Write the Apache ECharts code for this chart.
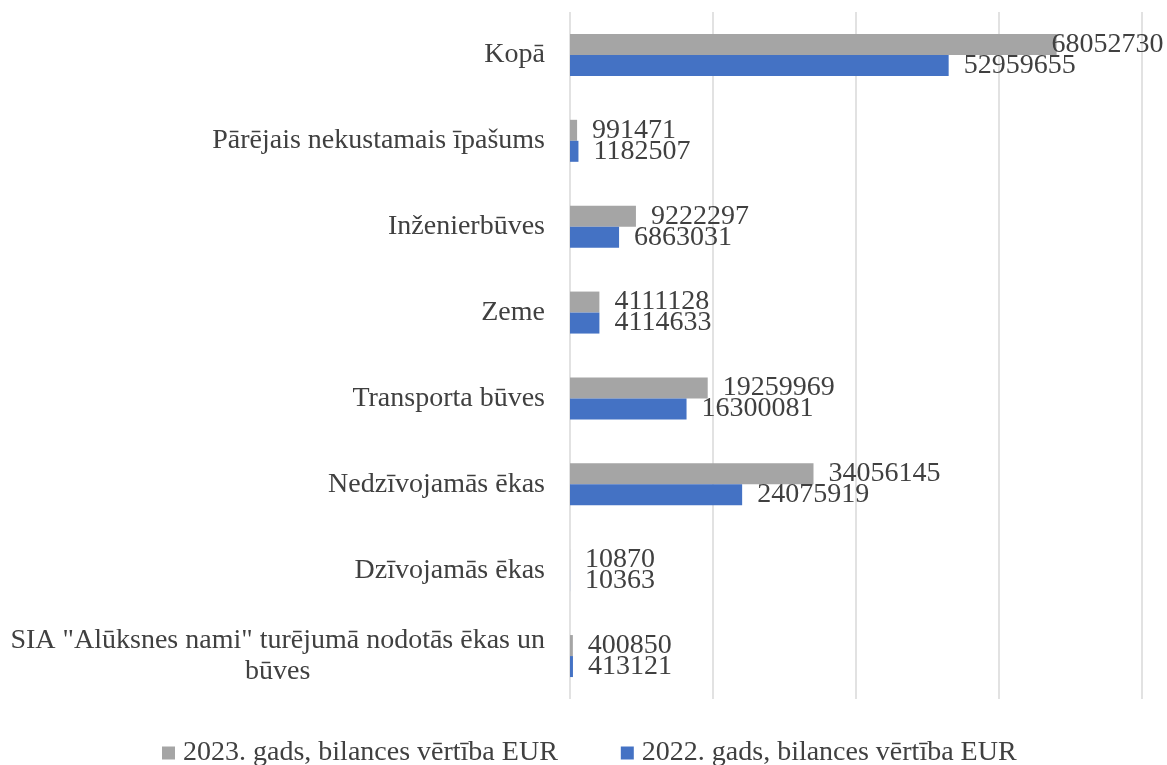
<!DOCTYPE html>
<html>
  <head>
    <meta charset="utf-8" />
    <title>ECharts</title>
    <script src="https://cdn.jsdelivr.net/npm/echarts@6/dist/echarts.min.js"></script>
    <style>
      html, body { margin: 0; padding: 0; background: #fff; }
    </style>
  </head>
  <body>
    <div id="main" style="width: 1167px;height:765px;"></div>
    <script type="text/javascript">
      // kategorijas no augšas uz leju
      var categories = [
        'Kopā',
        'Pārējais nekustamais īpašums',
        'Inženierbūves',
        'Zeme',
        'Transporta būves',
        'Nedzīvojamās ēkas',
        'Dzīvojamās ēkas',
        'SIA "Alūksnes nami" turējumā nodotās ēkas un\nbūves'
      ];
      var seriesNames = ['2023. gads, bilances vērtība EUR', '2022. gads, bilances vērtība EUR'];
      var values2023 = [68052730, 991471, 9222297, 4111128, 19259969, 34056145, 10870, 400850];
      var values2022 = [52959655, 1182507, 6863031, 4114633, 16300081, 24075919, 10363, 413121];

      var font = 'Liberation Serif, Times New Roman, serif';
      var textColor = '#404040';

      var myChart = echarts.init(document.getElementById('main'));

      // Kopā 2023 etiķete pārklājas ar stabiņa galu, tāpēc to pievelk tuvāk
      function makeData(arr, isTotalOverlap) {
        return arr.map(function (v, i) {
          if (isTotalOverlap && i === 0) {
            return { value: v, label: { distance: -5 } };
          }
          return v;
        });
      }

      var labelStyle = {
        show: true,
        position: 'right',
        distance: 15,
        fontSize: 28,
        fontFamily: font,
        color: textColor,
        padding: [3, 0, 0, 0]
      };

      var option = {
        animation: false,
        grid: { left: 570, right: 25, top: 12, bottom: 66, containLabel: false },
        legend: {
          data: seriesNames,
          left: 162,
          top: 739,
          padding: 0,
          icon: 'rect',
          itemWidth: 13,
          itemHeight: 13,
          itemGap: 63,
          textStyle: { fontSize: 28, fontFamily: font, color: textColor, padding: [0, 0, 0, 3] }
        },
        xAxis: {
          type: 'value',
          min: 0,
          max: 80000000,
          interval: 20000000,
          axisLabel: { show: false },
          axisLine: { show: false },
          axisTick: { show: false },
          splitLine: { lineStyle: { color: '#d9d9d9', width: 1.5 } }
        },
        yAxis: {
          type: 'category',
          inverse: true,
          data: categories,
          axisLine: { show: false },
          axisTick: { show: false },
          axisLabel: {
            margin: 25,
            formatter: function (v) { return '{c|' + v + '}'; },
            rich: {
              c: { align: 'center', fontSize: 28, lineHeight: 31, fontFamily: font, color: textColor }
            }
          }
        },
        series: [
          {
            name: seriesNames[0],
            type: 'bar',
            barWidth: 21,
            barGap: '0%',
            itemStyle: { color: '#A5A5A5' },
            label: labelStyle,
            data: makeData(values2023, true)
          },
          {
            name: seriesNames[1],
            type: 'bar',
            barWidth: 21,
            barGap: '0%',
            itemStyle: { color: '#4472C4' },
            label: labelStyle,
            data: makeData(values2022, false)
          }
        ]
      };

      myChart.setOption(option);
    </script>
  </body>
</html>
